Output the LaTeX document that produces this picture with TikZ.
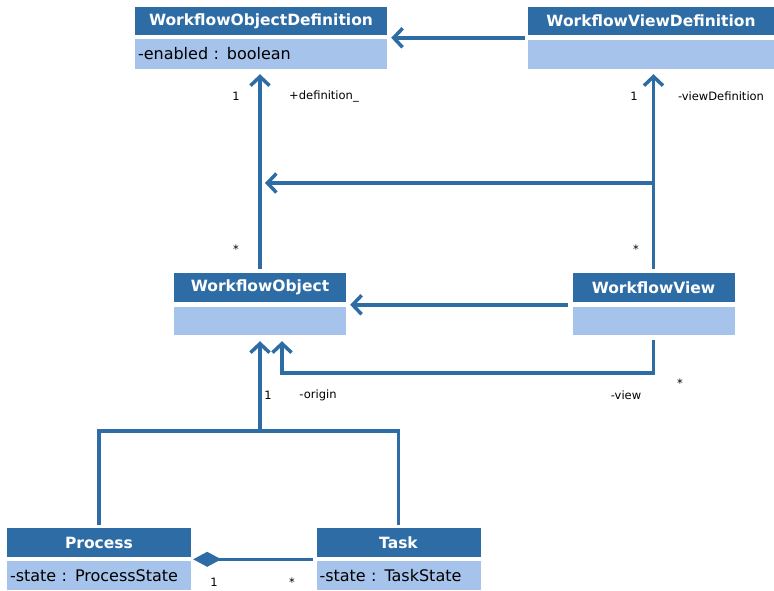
\documentclass[tikz,border=0pt]{standalone}
\usepackage{fontspec}
\setmainfont{DejaVu Sans}
\usetikzlibrary{arrows.meta}

\definecolor{umlblue}{HTML}{2E6CA6}
\definecolor{umllight}{HTML}{A6C3EC}

\tikzset{
  clshead/.style={fill=umlblue,text=white,font=\fontsize{15.5}{18}\selectfont\bfseries,inner sep=0pt},
  clsbody/.style={fill=umllight,font=\fontsize{16}{18}\selectfont,inner xsep=3pt,inner ysep=0pt,align=left},
  assoc/.style={draw=umlblue,line width=3.5pt},
  navi/.style={assoc,-{Straight Barb[length=9pt,width=19pt]},shorten >=4pt},
  lbl/.style={font=\fontsize{11.5}{13}\selectfont,inner sep=0pt}
}

\begin{document}
\begin{tikzpicture}[x=1pt,y=-1pt]
        \useasboundingbox (0,0) rectangle (774,590);

        % classes
        \node [clshead,minimum width=252pt,minimum height=28pt] at (261,21) (wodH) {WorkflowObjectDefinition};
        \node [clsbody,text width=246pt,minimum height=30pt] at (261,54) (wod) {-enabled : boolean};
        \node [clshead,minimum width=246pt,minimum height=28pt] at (651,21) (wvdH) {WorkflowViewDefinition};
        \node [clsbody,text width=240pt,minimum height=29pt] at (651,54.5) (wvd) {};
        \node [clshead,minimum width=172pt,minimum height=29pt] at (260,287.5) (woH) {WorkflowObject};
        \node [clsbody,text width=166pt,minimum height=28pt] at (260,321) (wo) {};
        \node [clshead,minimum width=162pt,minimum height=29pt] at (653.5,287.5) (wvH) {WorkflowView};
        \node [clsbody,text width=156pt,minimum height=28pt] at (653.5,321) (wv) {};
        \node [clshead,minimum width=184pt,minimum height=29pt] at (99,542.5) (prH) {Process};
        \node [clsbody,text width=178pt,minimum height=29pt] at (99,575.5) (pr) {-state : ProcessState};
        \node [clshead,minimum width=164pt,minimum height=29pt] at (398.5,542.5) (taskH) {Task};
        \node [clsbody,text width=158pt,minimum height=29pt] at (398.5,575.5) (task) {-state : TaskState};

        \coordinate (midV) at (653.5,183);
        \coordinate (midO) at (260,183);
        \coordinate (vbend) at (282,373);
        \coordinate (gen) at (260,431);

        % associations
        \draw [navi,shorten <=3pt] ([yshift=2pt]wvd.north west) -- ([yshift=2pt]wvd.north west -| wod.east);
        \draw [navi,shorten <=4pt,shorten >=5pt] (woH.north) -- (woH.north |- wod.south);
        \draw [navi,shorten <=4pt,shorten >=5pt] (wvH.north) -- (wvH.north |- wvd.south);
        \draw [navi,shorten >=5pt] (midV) -- (midO);
        \draw [navi,shorten <=4pt] ([yshift=2pt]wv.north west) -- ([yshift=2pt]wv.north west -| wo.east);
        \draw [navi,shorten >=6pt] ([yshift=-5pt]wv.south) |- (vbend) -- (vbend |- wo.south);

        % generalization
        \draw [assoc,shorten <=3pt,shorten >=3pt] (prH.north) |- (gen) -| (taskH.north);
        \draw [navi,shorten >=6pt] (gen) -- (wo.south);

        % composition
        \draw [assoc,line width=3pt,{Diamond[length=28pt,width=15pt]}-,shorten <=2pt,shorten >=3pt] ([yshift=1.5pt]pr.north east) -- ([yshift=1.5pt]pr.north east -| task.west);

        % multiplicities and roles
        \node [lbl] at (236,96) (m1) {1};
        \node [lbl] at (324,96) (r1) {+definition\_};
        \node [lbl] at (236,249) (m2) {*};
        \node [lbl] at (634,96) (m3) {1};
        \node [lbl] at (721,96) (r2) {-viewDefinition};
        \node [lbl] at (636,249) (m4) {*};
        \node [lbl] at (268,395) (m5) {1};
        \node [lbl] at (318,395) (r3) {-origin};
        \node [lbl] at (680,383) (m6) {*};
        \node [lbl] at (626,395) (r4) {-view};
        \node [lbl] at (214,582) (m7) {1};
        \node [lbl] at (292,582) (m8) {*};
      \end{tikzpicture}
\end{document}
